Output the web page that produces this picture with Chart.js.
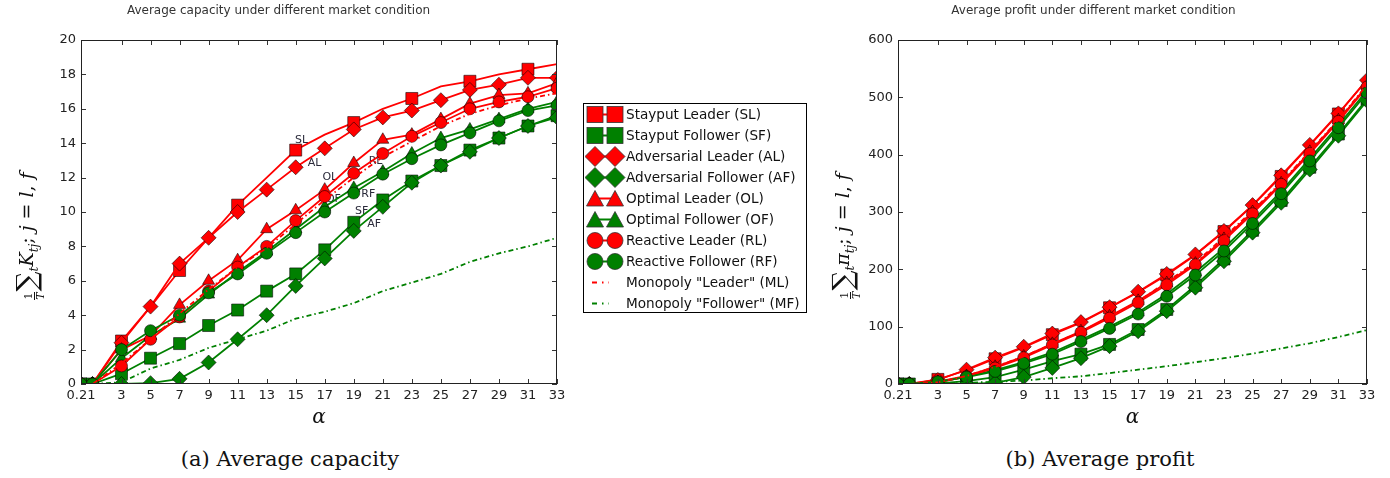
<!DOCTYPE html>
<html>
<head>
<meta charset="utf-8">
<script src="https://cdn.jsdelivr.net/npm/chart.js@4.4.0/dist/chart.umd.min.js"></script>
<style>
  body { margin: 0; background: #fff; }
  #page { position: relative; width: 1390px; height: 478px; overflow: hidden; font-family: "DejaVu Sans", sans-serif; }
  .panel { position: absolute; top: 0; }
  .ylab { position: absolute; width: 180px; height: 34px; line-height: 34px; text-align: center;
          transform: rotate(-90deg); font-family: "DejaVu Serif", "Liberation Serif", serif; font-size: 19px;
          white-space: nowrap; color: #111; }
  .ylab i { font-style: italic; }
  .ylab sub { font-size: 12px; vertical-align: -5px; }
  .frac { display: inline-flex; flex-direction: column; font-size: 11px; line-height: 11px; vertical-align: 1px; margin-right: 1px; }
  .frac span:first-child { border-bottom: 1px solid #111; }
  .sum { font-size: 28px; vertical-align: -3px; }
  .caption { position: absolute; top: 447px; text-align: center; font-family: "DejaVu Serif", "Liberation Serif", serif;
             font-size: 21px; color: #111; }
  #legend { position: absolute; left: 583px; top: 103px; width: 224px; height: 210px; border: 1px solid #000;
            box-sizing: border-box; background: #fff; }
  .row { position: absolute; left: 0; height: 21px; width: 222px; }
  .row svg { position: absolute; left: 1px; top: 0; }
  .row span { position: absolute; left: 42px; top: 0; line-height: 21px; font-size: 13.6px; color: #111; white-space: nowrap; }
</style>
</head>
<body>
<div id="page">
  <div class="panel" style="left:0;"><canvas id="capacity" width="580" height="430"></canvas></div>
  <div class="panel" style="left:820px;"><canvas id="profit" width="560" height="430"></canvas></div>

  <div class="ylab" style="left:-64px; top:219px;"><span class="frac"><span>1</span><span><i>T</i></span></span><span class="sum">∑</span><sub><i>t</i></sub><i>K</i><sub><i>tj</i></sub>; <i>j</i> = <i>l</i>, <i>f</i></div>
  <div class="ylab" style="left:752px; top:219px;"><span class="frac"><span>1</span><span><i>T</i></span></span><span class="sum">∑</span><sub><i>t</i></sub><i>π</i><sub><i>tj</i></sub>; <i>j</i> = <i>l</i>, <i>f</i></div>

  <div id="legend"></div>

  <div class="caption" style="left:0; width:580px;">(a) Average capacity</div>
  <div class="caption" style="left:820px; width:560px;">(b) Average profit</div>
</div>

<script>
// x positions (alpha) and tick labels
const alphaValues = [0.21, 1, 3, 5, 7, 9, 11, 13, 15, 17, 19, 21, 23, 25, 27, 29, 31, 33];
const xTicks = [0.21, 3, 5, 7, 9, 11, 13, 15, 17, 19, 21, 23, 25, 27, 29, 31, 33];

const seriesNames = [
  "Stayput Leader (SL)", "Stayput Follower (SF)",
  "Adversarial Leader (AL)", "Adversarial Follower (AF)",
  "Optimal Leader (OL)", "Optimal Follower (OF)",
  "Reactive Leader (RL)", "Reactive Follower (RF)",
  'Monopoly "Leader" (ML)', 'Monopoly "Follower" (MF)',
];

// (a) average capacity
const capSL = [0, 0, 2.5, 4.5, 6.6, 8.5, 10.4, 12.0, 13.6, 14.5, 15.2, 16.0, 16.6, 17.3, 17.6, 18.0, 18.3, 18.6];
const capSF = [0, 0, 0.6, 1.5, 2.35, 3.4, 4.3, 5.4, 6.4, 7.8, 9.4, 10.7, 11.8, 12.7, 13.6, 14.3, 15.0, 15.6];
const capAL = [0, 0, 2.4, 4.5, 7.0, 8.5, 10.0, 11.3, 12.6, 13.7, 14.8, 15.5, 15.9, 16.5, 17.1, 17.4, 17.8, 17.8];
const capAF = [0, 0, 0, 0.05, 0.3, 1.25, 2.6, 4.0, 5.7, 7.3, 8.9, 10.3, 11.7, 12.7, 13.5, 14.3, 15.0, 15.5];
const capOL = [0, 0, 2.0, 2.8, 4.6, 6.0, 7.2, 9.0, 10.1, 11.3, 12.85, 14.2, 14.5, 15.4, 16.3, 16.8, 16.9, 17.5];
const capOF = [0, 0, 1.5, 2.8, 3.8, 5.2, 6.5, 7.7, 9.0, 10.3, 11.4, 12.35, 13.4, 14.3, 14.8, 15.4, 16.0, 16.4];
const capRL = [0, 0, 1.05, 2.6, 3.9, 5.4, 6.8, 8.0, 9.5, 10.9, 12.25, 13.4, 14.4, 15.2, 16.0, 16.4, 16.7, 17.2];
const capRF = [0, 0, 2.0, 3.1, 4.0, 5.3, 6.4, 7.6, 8.8, 10.0, 11.1, 12.2, 13.1, 13.9, 14.6, 15.3, 15.9, 16.2];
const capML = [0, 0, 1.2, 2.6, 4.1, 5.5, 6.8, 7.9, 9.3, 10.7, 12.0, 13.2, 14.1, 15.0, 15.7, 16.2, 16.6, 16.9];
const capMF = [0, 0, 0.1, 0.9, 1.4, 2.1, 2.6, 3.1, 3.8, 4.2, 4.7, 5.4, 5.9, 6.4, 7.1, 7.6, 8.0, 8.5];

// (b) average profit
const proSL = [0, 0, 8, 24, 44, 64, 86, 107, 133, 160, 190, 225, 266, 311, 362, 416, 471, 531];
const proSF = [0, 0, 1, 5, 12, 25, 40, 52, 69, 95, 130, 172, 218, 268, 320, 378, 436, 497];
const proAL = [0, 0, 7, 25, 46, 65, 88, 108, 134, 161, 192, 226, 267, 312, 364, 417, 472, 530];
const proAF = [0, 0, 0, 0, 2, 12, 28, 45, 66, 92, 127, 168, 214, 264, 316, 374, 433, 494];
const proOL = [0, 0, 4, 14, 30, 48, 70, 92, 118, 145, 176, 210, 253, 300, 350, 405, 460, 520];
const proOF = [0, 0, 3, 13, 24, 38, 55, 77, 100, 125, 157, 195, 237, 285, 336, 393, 451, 512];
const proRL = [0, 0, 3, 13, 28, 46, 68, 90, 115, 142, 173, 208, 250, 297, 348, 402, 458, 518];
const proRF = [0, 0, 4, 12, 22, 36, 52, 74, 97, 122, 153, 190, 232, 280, 332, 389, 447, 508];
const proML = [0, 0, 3, 14, 30, 48, 70, 91, 117, 144, 178, 212, 256, 302, 352, 406, 461, 522];
const proMF = [0, 0, 0, 2, 4, 6, 10, 13.5, 19, 25, 31, 38, 45, 53, 62, 71, 82, 94];

// curve labels written inside panel (a)
const annLabels = ["SL", "AL", "OL", "RL", "OF", "RF", "SF", "AF"];
const annAlpha = [15.4, 16.3, 17.35, 20.5, 17.6, 20.0, 19.55, 20.4];
const annValue = [14.2, 12.85, 12.0, 12.95, 10.75, 11.05, 10.05, 9.3];

const RED = "#ff0000";
const GREEN = "#008000";
const DASHDOT = [5, 3, 1.5, 3];
const styles = [
  { color: RED, point: "rect", r: 8.5, every: 2 },
  { color: GREEN, point: "rect", r: 8.5 },
  { color: RED, point: "rectRot", r: 7.5 },
  { color: GREEN, point: "rectRot", r: 7.5 },
  { color: RED, point: "triangle", r: 7 },
  { color: GREEN, point: "triangle", r: 7 },
  { color: RED, point: "circle", r: 6 },
  { color: GREEN, point: "circle", r: 6 },
  { color: RED, point: false, r: 0, dash: DASHDOT },
  { color: GREEN, point: false, r: 0, dash: DASHDOT },
];

const tickFont = { family: "DejaVu Sans", size: 13 };

// frame + inward ticks on all four sides, like the matplotlib axes
const framePlugin = {
  id: "frame",
  afterDatasetsDraw(chart) {
    const { ctx, chartArea: a, scales } = chart;
    ctx.save();
    ctx.strokeStyle = "#333";
    ctx.lineWidth = 1;
    ctx.beginPath();
    scales.x.ticks.forEach((t) => {
      const px = Math.round(scales.x.getPixelForValue(t.value)) + 0.5;
      ctx.moveTo(px, a.bottom); ctx.lineTo(px, a.bottom - 5);
      ctx.moveTo(px, a.top); ctx.lineTo(px, a.top + 5);
    });
    scales.y.ticks.forEach((t) => {
      const py = Math.round(scales.y.getPixelForValue(t.value)) + 0.5;
      ctx.moveTo(a.left, py); ctx.lineTo(a.left + 5, py);
      ctx.moveTo(a.right, py); ctx.lineTo(a.right - 5, py);
    });
    ctx.stroke();
    ctx.strokeStyle = "#222";
    ctx.strokeRect(Math.round(a.left) + 0.5, Math.round(a.top) + 0.5, Math.round(a.width) - 1, Math.round(a.height) - 1);
    ctx.restore();
  },
};

const curveLabels = {
  id: "curveLabels",
  beforeDatasetsDraw(chart) {
    const { ctx, scales } = chart;
    ctx.save();
    ctx.font = "11px 'DejaVu Sans'";
    ctx.fillStyle = "#2a2a3a";
    ctx.textAlign = "center";
    ctx.textBaseline = "middle";
    annLabels.forEach((txt, i) => {
      ctx.fillText(txt, scales.x.getPixelForValue(annAlpha[i]), scales.y.getPixelForValue(annValue[i]));
    });
    ctx.restore();
  },
};

const makeDatasets = (series) =>
  series.map((vals, i) => {
    const st = styles[i];
    return {
      label: seriesNames[i],
      data: alphaValues.map((x, k) => ({ x: x, y: vals[k] })),
      borderColor: st.color,
      backgroundColor: st.color,
      borderWidth: 1.8,
      borderDash: st.dash || [],
      pointStyle: st.point,
      pointRadius: (c) => (st.every && c.dataIndex % st.every ? 0 : st.r),
      pointBackgroundColor: st.color,
      pointBorderColor: "rgba(0,0,0,0.55)",
      pointBorderWidth: 1,
      tension: 0,
      order: 20 - i,
    };
  });

const makeChart = (id, title, series, yMax, yStep, yWidth, padRight, extraPlugins) =>
  new Chart(document.getElementById(id), {
    type: "line",
    data: { datasets: makeDatasets(series) },
    options: {
      responsive: false,
      animation: false,
      layout: { padding: { left: 0, right: padRight, top: 0, bottom: 0 } },
      plugins: {
        legend: { display: false },
        tooltip: { enabled: false },
        title: {
          display: true,
          text: title,
          color: "#333",
          font: { family: "DejaVu Sans", size: 12, weight: "normal", lineHeight: 1.2 },
          padding: { top: 4, bottom: 21.6 },
        },
      },
      scales: {
        x: {
          type: "linear",
          min: 0.21,
          max: 33,
          afterBuildTicks: (s) => { s.ticks = xTicks.map((v) => ({ value: v })); },
          afterFit: (s) => { s.height = 46; },
          ticks: { font: tickFont, color: "#222", padding: 4, autoSkip: false, maxRotation: 0, callback: (v) => String(v) },
          grid: { display: false, drawTicks: false },
          border: { display: false },
          title: { display: true, text: "α", color: "#111", font: { family: "DejaVu Serif", size: 20, style: "italic" }, padding: 0 },
        },
        y: {
          min: 0,
          max: yMax,
          afterFit: (s) => { s.width = yWidth; },
          ticks: { stepSize: yStep, font: tickFont, color: "#222", padding: 5 },
          grid: { display: false, drawTicks: false },
          border: { display: false },
        },
      },
    },
    plugins: [framePlugin].concat(extraPlugins),
  });

makeChart("capacity", "Average capacity under different market condition",
  [capSL, capSF, capAL, capAF, capOL, capOF, capRL, capRF, capML, capMF], 20, 2, 81, 23, [curveLabels]);

makeChart("profit", "Average profit under different market condition",
  [proSL, proSF, proAL, proAF, proOL, proOF, proRL, proRF, proML, proMF], 600, 100, 78, 13, []);

// shared legend box in the middle
const markerSvg = (st, cx) => {
  const s = 'fill="' + st.color + '" stroke="#333" stroke-width="0.8"';
  if (st.point === "rect") return '<rect x="' + (cx - 8) + '" y="2.5" width="16" height="16" ' + s + "/>";
  if (st.point === "rectRot") return '<polygon points="' + cx + ",0.5 " + (cx + 10) + ",10.5 " + cx + ",20.5 " + (cx - 10) + ',10.5" ' + s + "/>";
  if (st.point === "triangle") return '<polygon points="' + cx + ",2.5 " + (cx + 8.5) + ",18 " + (cx - 8.5) + ',18" ' + s + "/>";
  if (st.point === "circle") return '<circle cx="' + cx + '" cy="10.5" r="8" ' + s + "/>";
  return "";
};

const legendBox = document.getElementById("legend");
seriesNames.forEach((name, i) => {
  const st = styles[i];
  const line = st.point
    ? '<line x1="10" y1="10.5" x2="30" y2="10.5" stroke="' + st.color + '" stroke-width="2"/>'
    : '<line x1="7" y1="10.5" x2="24" y2="10.5" stroke="' + st.color + '" stroke-width="2" stroke-dasharray="5,5,1.5,5"/>';
  const row = document.createElement("div");
  row.className = "row";
  row.style.top = i * 21 + "px";
  row.innerHTML = '<svg width="41" height="21">' + line + markerSvg(st, 10) + markerSvg(st, 30) + "</svg><span>" + name + "</span>";
  legendBox.appendChild(row);
});
</script>
</body>
</html>
